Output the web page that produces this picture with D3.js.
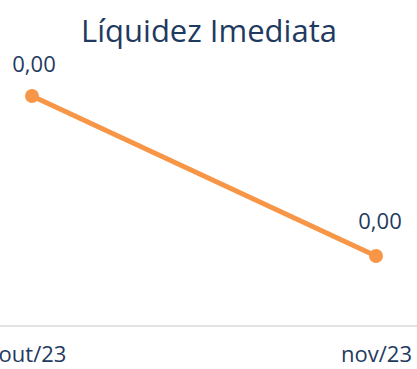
<!DOCTYPE html>
<html>
<head>
<meta charset="utf-8">
<script src="https://cdn.jsdelivr.net/npm/d3@7"></script>
<style>
  html, body { margin: 0; padding: 0; background: #fff; overflow: hidden; }
  svg { display: block; font-family: "Open Sans", "Noto Sans", sans-serif; }
</style>
</head>
<body>
<svg id="chart" width="417" height="369"></svg>
<script>
// Monthly immediate-liquidity index
const months = ["out/23", "nov/23"];
const values = [0.0046, 0.0014];
const valueLabels = ["0,00", "0,00"];
const chartTitle = "Líquidez Imediata";

const svg = d3.select("#chart");
const W = 417, H = 369;
const baseY = 326, topY = 76;

const x = d3.scalePoint().domain(months).range([32, 376]);
const y = d3.scaleLinear().domain([0, 0.005]).range([baseY, topY]);

// title
svg.append("text")
  .attr("x", 209).attr("y", 42)
  .attr("text-anchor", "middle")
  .attr("fill", "#1f3a5f")
  .attr("font-size", 31)
  .text(chartTitle);

// category axis
const xAxis = d3.axisBottom(x).tickSize(0).tickPadding(24);
const gx = svg.append("g").attr("transform", `translate(0,${baseY})`).call(xAxis);
gx.select(".domain").remove();
gx.append("line").attr("x1", 0).attr("x2", W).attr("y1", 0).attr("y2", 0)
  .attr("stroke", "#d9d9d9").attr("stroke-width", 1.5);
gx.selectAll(".tick text")
  .attr("fill", "#1f3a5f")
  .attr("font-size", 22)
  .attr("dy", "0.55em")
  .attr("font-family", "'Open Sans', 'Noto Sans', sans-serif");

const data = months.map((m, i) => ({ m, v: values[i], label: valueLabels[i] }));

// line
svg.append("path")
  .datum(data)
  .attr("fill", "none")
  .attr("stroke", "#f79646")
  .attr("stroke-width", 5)
  .attr("stroke-linecap", "round")
  .attr("d", d3.line().x(d => x(d.m)).y(d => y(d.v)));

// markers
svg.selectAll("circle.pt").data(data).join("circle")
  .attr("class", "pt")
  .attr("cx", d => x(d.m)).attr("cy", d => y(d.v))
  .attr("r", 7)
  .attr("fill", "#f79646");

// value labels
svg.selectAll("text.val").data(data).join("text")
  .attr("class", "val")
  .attr("x", (d, i) => x(d.m) + (i === 0 ? 2 : 4))
  .attr("y", (d, i) => y(d.v) - (i === 0 ? 24 : 27))
  .attr("text-anchor", "middle")
  .attr("fill", "#1f3a5f")
  .attr("font-size", 22)
  .text(d => d.label);
</script>
</body>
</html>
